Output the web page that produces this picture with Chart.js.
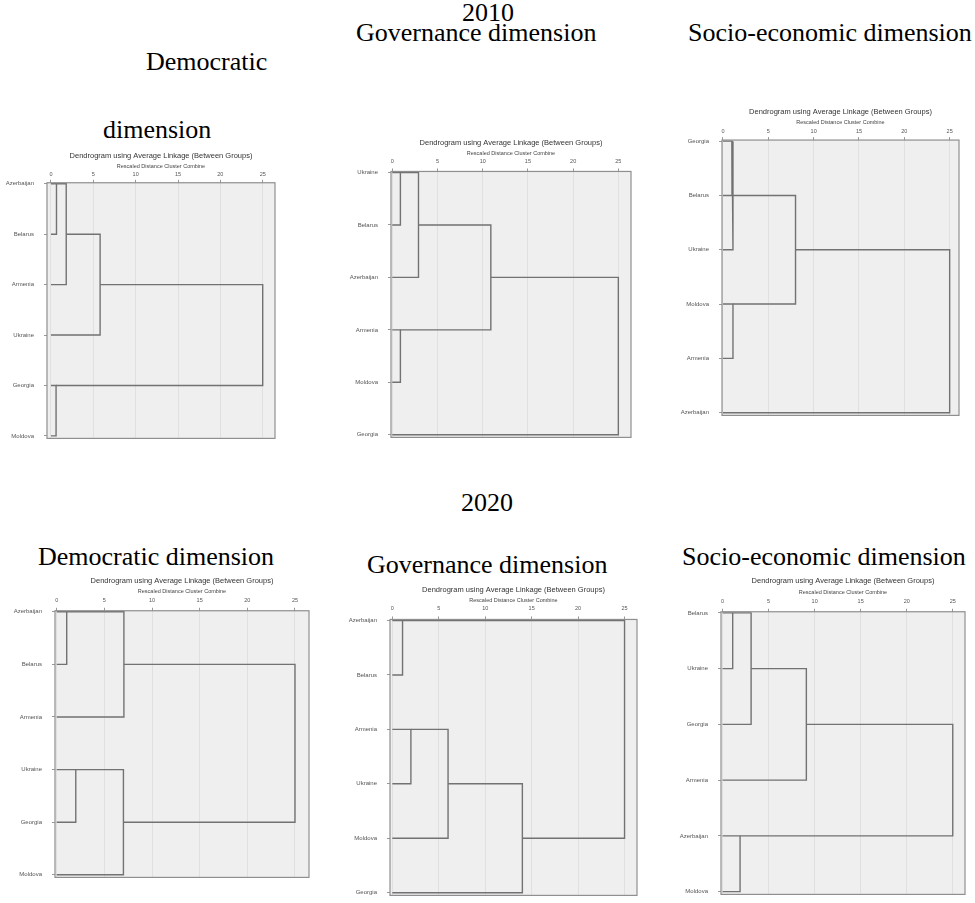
<!DOCTYPE html>
<html>
<head>
<meta charset="utf-8">
<script src="https://cdn.jsdelivr.net/npm/chart.js@4/dist/chart.umd.min.js"></script>
<style>
  html, body { margin: 0; padding: 0; background: #fff; width: 975px; height: 903px; overflow: hidden; position: relative; }
  .h { position: absolute; font-family: 'Liberation Serif', 'Times New Roman', serif; font-size: 26px; line-height: 26px; color: #000; white-space: nowrap; }
  canvas { position: absolute; }
</style>
</head>
<body>
<div class="h" style="left:462px;top:0px">2010</div>
<div class="h" style="left:146px;top:49px">Democratic</div>
<div class="h" style="left:103px;top:117px">dimension</div>
<div class="h" style="left:356px;top:20px">Governance dimension</div>
<div class="h" style="left:688px;top:20px">Socio-economic dimension</div>

<div class="h" style="left:461px;top:490px">2020</div>
<div class="h" style="left:38px;top:544px">Democratic dimension</div>
<div class="h" style="left:367px;top:552px">Governance dimension</div>
<div class="h" style="left:682px;top:544px">Socio-economic dimension</div>

<canvas id="dem2010"></canvas>
<canvas id="gov2010"></canvas>
<canvas id="soc2010"></canvas>
<canvas id="dem2020"></canvas>
<canvas id="gov2020"></canvas>
<canvas id="soc2020"></canvas>

<script>
// Rescaled distance axis (0-25)
const AXIS_TICKS = [0, 5, 10, 15, 20, 25];
const CHART_TITLE = 'Dendrogram using Average Linkage (Between Groups)';
const CHART_SUBTITLE = 'Rescaled Distance Cluster Combine';

// Leaf order and merge steps [childA, childB, rescaled distance];
// leaves are nodes 0-5, each merge creates the next node (6, 7, ...).
const DEM_2010_LEAVES = ['Azerbaijan', 'Belarus', 'Armenia', 'Ukraine', 'Georgia', 'Moldova'];
const DEM_2010_MERGES = [[0, 1, 0.65], [6, 2, 1.8], [7, 3, 5.8], [4, 5, 0.6], [8, 9, 25]];

const GOV_2010_LEAVES = ['Ukraine', 'Belarus', 'Azerbaijan', 'Armenia', 'Moldova', 'Georgia'];
const GOV_2010_MERGES = [[0, 1, 0.9], [6, 2, 2.9], [3, 4, 0.9], [7, 8, 10.9], [9, 5, 25]];

const SOC_2010_LEAVES = ['Georgia', 'Belarus', 'Ukraine', 'Moldova', 'Armenia', 'Azerbaijan'];
const SOC_2010_MERGES = [[0, 1, 1.0], [6, 2, 1.1], [3, 4, 1.1], [7, 8, 8.0], [9, 5, 25]];

const DEM_2020_LEAVES = ['Azerbaijan', 'Belarus', 'Armenia', 'Ukraine', 'Georgia', 'Moldova'];
const DEM_2020_MERGES = [[0, 1, 1.05], [6, 2, 7.05], [3, 4, 2.0], [8, 5, 7.0], [7, 9, 25]];

const GOV_2020_LEAVES = ['Azerbaijan', 'Belarus', 'Armenia', 'Ukraine', 'Moldova', 'Georgia'];
const GOV_2020_MERGES = [[0, 1, 1.1], [2, 3, 2.0], [7, 4, 6.0], [8, 5, 14.0], [6, 9, 25]];

const SOC_2020_LEAVES = ['Belarus', 'Ukraine', 'Georgia', 'Armenia', 'Azerbaijan', 'Moldova'];
const SOC_2020_MERGES = [[0, 1, 1.1], [6, 2, 3.1], [7, 3, 9.1], [4, 5, 1.9], [8, 9, 25]];

// Page placement of each plot frame and the axis range it shows
const PANELS = [
  { id: 'dem2010', leaves: DEM_2010_LEAVES, merges: DEM_2010_MERGES,
    box: { l: 46.7, t: 182.7, r: 275, b: 448.3 }, xMin: -0.47, xMax: 26.45, dT: 27, dS: 16.3, tickGap: 8 },
  { id: 'gov2010', leaves: GOV_2010_LEAVES, merges: GOV_2010_MERGES,
    box: { l: 391, t: 171, r: 631, b: 446.7 }, xMin: -0.14, xMax: 26.4, dT: 28.7, dS: 18.3, tickGap: 10 },
  { id: 'soc2010', leaves: SOC_2010_LEAVES, merges: SOC_2010_MERGES,
    box: { l: 722.3, t: 140, r: 959.3, b: 425 }, xMin: -0.11, xMax: 26.03, dT: 28.3, dS: 17.7, tickGap: 9 },
  { id: 'dem2020', leaves: DEM_2020_LEAVES, merges: DEM_2020_MERGES,
    box: { l: 55, t: 610.7, r: 309.3, b: 887 }, xMin: -0.18, xMax: 26.47, dT: 30, dS: 19, tickGap: 10.7 },
  { id: 'gov2020', leaves: GOV_2020_LEAVES, merges: GOV_2020_MERGES,
    box: { l: 390, t: 619, r: 636.7, b: 905 }, xMin: -0.25, xMax: 26.34, dT: 29.7, dS: 19, tickGap: 11 },
  { id: 'soc2020', leaves: SOC_2020_LEAVES, merges: SOC_2020_MERGES,
    box: { l: 720.7, t: 611.7, r: 965, b: 903.5 }, xMin: -0.17, xMax: 26.33, dT: 31, dS: 19, tickGap: 10 }
];

const Y_MIN = -0.02, Y_MAX = 5.05;
const AXIS_W = 60, PAD_R = 4, PAD_B = 4;
const TITLE_SIZE = 7.5, SUB_SIZE = 5.5, TICK_SIZE = 5.5, LEAF_SIZE = 6;
const SANS = "'Liberation Sans', Arial, sans-serif";

// Turn merge steps into elbow polylines: child A level -> merge height -> child B level.
// A merged cluster continues from the row half way between its children (rounded down).
function dendrogramSegments(leafCount, merges) {
  const nodes = [];
  for (let i = 0; i < leafCount; i++) nodes.push({ y: i, h: 0 });
  const segments = [];
  merges.forEach(([a, b, h]) => {
    const A = nodes[a], B = nodes[b];
    segments.push([
      { x: A.h, y: A.y }, { x: h, y: A.y },
      { x: h, y: B.y }, { x: B.h, y: B.y }
    ]);
    nodes.push({ y: Math.floor((A.y + B.y) / 2), h: h });
  });
  return segments;
}

// Grey plot background and frame
const plotFrame = {
  id: 'plotFrame',
  beforeDraw(chart) {
    const { ctx, chartArea: a } = chart;
    ctx.save();
    ctx.fillStyle = '#efefef';
    ctx.fillRect(a.left, a.top, a.right - a.left, a.bottom - a.top);
    ctx.restore();
  },
  afterDatasetsDraw(chart) {
    const { ctx, chartArea: a } = chart;
    ctx.save();
    ctx.strokeStyle = '#8f8f8f';
    ctx.lineWidth = 1.2;
    ctx.strokeRect(a.left, a.top, a.right - a.left, a.bottom - a.top);
    ctx.restore();
  }
};

function makePanel(p) {
  const canvas = document.getElementById(p.id);
  const titlePadTop = 2;
  const left = p.box.l - AXIS_W;
  const top = p.box.t - p.dT - TITLE_SIZE / 2 - titlePadTop;
  const width = p.box.r - left + PAD_R;
  const height = p.box.b - top + PAD_B;
  canvas.style.left = left + 'px';
  canvas.style.top = top + 'px';
  canvas.width = Math.round(width);
  canvas.height = Math.round(height);
  canvas.style.width = Math.round(width) + 'px';
  canvas.style.height = Math.round(height) + 'px';

  const subPadTop = p.dT - p.dS - TITLE_SIZE / 2 - SUB_SIZE / 2;
  const titleBlock = titlePadTop + TITLE_SIZE + subPadTop + SUB_SIZE;
  const xAxisH = p.box.t - top - titleBlock;
  const tickLineH = TICK_SIZE * 1.2;

  const datasets = dendrogramSegments(p.leaves.length, p.merges).map(seg => ({
    data: seg,
    showLine: true,
    borderColor: '#727272',
    borderWidth: 1.4,
    pointRadius: 0,
    fill: false,
    tension: 0
  }));

  new Chart(canvas, {
    type: 'scatter',
    data: { datasets },
    plugins: [plotFrame],
    options: {
      responsive: false,
      animation: false,
      devicePixelRatio: 1,
      layout: { padding: { top: 0, left: 0, right: PAD_R, bottom: PAD_B } },
      plugins: {
        legend: { display: false },
        tooltip: { enabled: false },
        title: {
          display: true, text: CHART_TITLE, color: '#333', fullSize: false,
          font: { family: SANS, size: TITLE_SIZE, weight: 'normal', lineHeight: 1 },
          padding: { top: titlePadTop, bottom: 0 }
        },
        subtitle: {
          display: true, text: CHART_SUBTITLE, color: '#444', fullSize: false,
          font: { family: SANS, size: SUB_SIZE, weight: 'normal', lineHeight: 1 },
          padding: { top: subPadTop, bottom: 0 }
        }
      },
      scales: {
        x: {
          type: 'linear', position: 'top', min: p.xMin, max: p.xMax,
          afterBuildTicks: s => { s.ticks = AXIS_TICKS.map(v => ({ value: v })); },
          afterFit: s => { s.height = xAxisH; },
          ticks: {
            color: '#555', font: { family: SANS, size: TICK_SIZE }, maxRotation: 0,
            padding: p.tickGap - 3 - tickLineH / 2,
            callback: v => String(v)
          },
          grid: { color: 'rgba(0,0,0,0.06)', tickColor: '#999', tickLength: 3, drawTicks: true },
          border: { display: false }
        },
        y: {
          type: 'linear', position: 'left', reverse: true, min: Y_MIN, max: Y_MAX,
          afterBuildTicks: s => { s.ticks = p.leaves.map((_, i) => ({ value: i })); },
          afterFit: s => { s.width = AXIS_W; },
          ticks: {
            color: '#555', font: { family: SANS, size: LEAF_SIZE }, padding: 10,
            callback: v => p.leaves[v]
          },
          grid: { drawOnChartArea: false, drawTicks: true, tickLength: 3, tickColor: '#999' },
          border: { display: false }
        }
      }
    }
  });
}

PANELS.forEach(makePanel);
</script>
</body>
</html>
